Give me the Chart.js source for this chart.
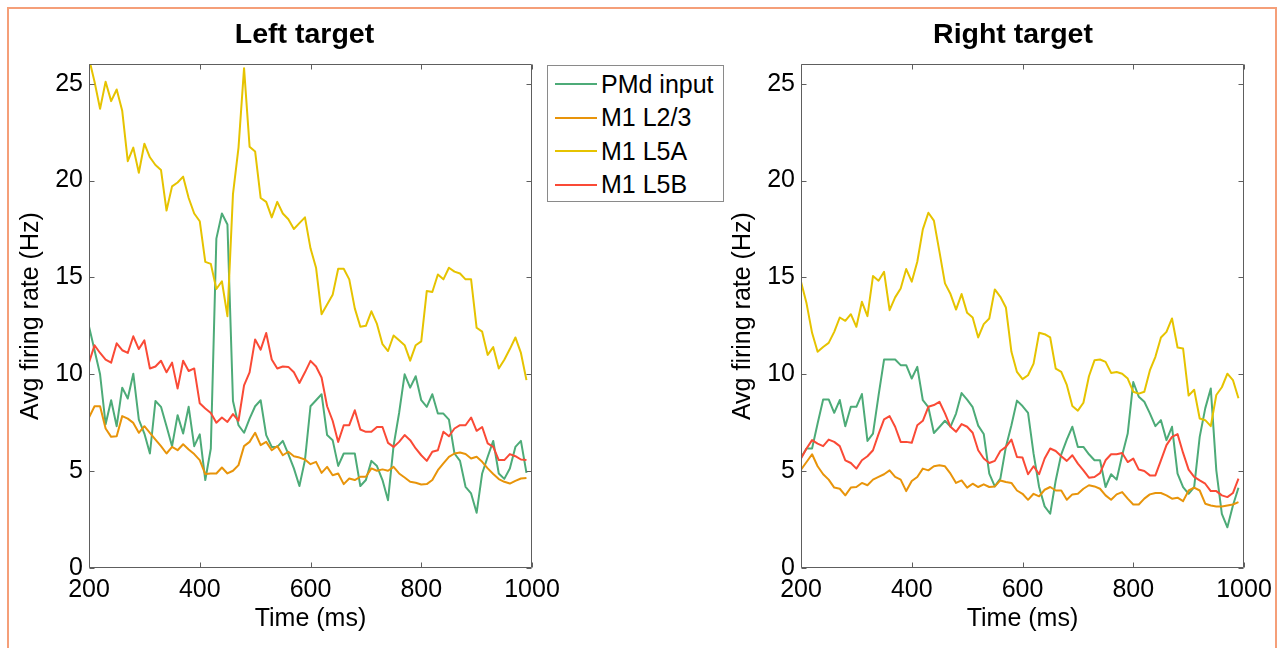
<!DOCTYPE html>
<html>
<head>
<meta charset="utf-8">
<script src="https://cdn.jsdelivr.net/npm/chart.js@4.4.1/dist/chart.umd.min.js"></script>
<style>
  html, body { margin: 0; padding: 0; background: #fff; overflow: hidden; width: 1283px; height: 648px; }
  #frame { position: absolute; left: 7px; top: 7px; width: 1270px; height: 700px; box-sizing: border-box;
           border: 2px solid #f59f79; pointer-events: none; z-index: 10; }
  canvas { position: absolute; top: 0; }
  #cLeft { left: 0; }
  #cRight { left: 720px; }
  #legend { position: absolute; left: 547px; top: 65px; width: 177px; height: 137px; box-sizing: border-box;
            border: 1px solid #8a8a8a; background: #fff; font-family: "Liberation Sans", Arial, sans-serif; z-index: 5; }
  .row { position: absolute; left: 7px; height: 34px; display: flex; align-items: center; font-size: 25px; color: #000; white-space: nowrap; }
  .sw { width: 42px; height: 2px; margin-right: 4px; }
</style>
</head>
<body>
<div id="frame"></div>
<canvas id="cLeft" width="609" height="648"></canvas>
<canvas id="cRight" width="586" height="648"></canvas>
<div id="legend"></div>
<script>
// ---------- data ----------
const timeMs = [200,210,220,230,240,250,260,270,280,290,300,310,320,330,340,350,360,370,380,390,
                400,410,420,430,440,450,460,470,480,490,500,510,520,530,540,550,560,570,580,590,
                600,610,620,630,640,650,660,670,680,690,700,710,720,730,740,750,760,770,780,790,
                800,810,820,830,840,850,860,870,880,890,900,910,920,930,940,950,960,970,980,990];
const xTicks = [200, 400, 600, 800, 1000];
const yTicks = [0, 5, 10, 15, 20, 25];
const seriesNames = ['PMd input', 'M1 L2/3', 'M1 L5A', 'M1 L5B'];
const seriesColors = ['#4dab78', '#e8940a', '#e6c300', '#fa4a36'];
const panelTitles = ['Left target', 'Right target'];

const leftPMd = [12.47,11.24,10.0,7.42,8.66,7.32,9.31,8.75,10.03,7.66, 6.94,5.91,8.62,8.32,7.32,6.29,7.89,6.94,8.32,6.29,
  6.9,4.54,6.17,17.0,18.3,17.73,8.62,7.37,6.98,7.71, 8.35,8.66,6.86,6.25,6.25,6.56,5.88,5.14,4.23,5.57,
  8.35,8.66,8.97,6.86,6.6,5.27,5.91,5.91,5.91,4.23, 4.54,5.53,5.26,4.54,3.5,6.3,8.0,10.0,9.31,9.9,
  8.66,8.32,8.97,7.97,7.97,7.66,5.91,5.53,4.19,3.85, 2.85,4.88,5.74,6.56,4.88,4.6,5.14,6.25,6.56,4.91];
const leftL23 = [7.77,8.35,8.35,7.2,6.77,6.8,7.84,7.71,7.49,6.98, 7.32,6.98,6.63,6.29,5.91,6.25,6.08,6.39,6.12,5.88,
  5.57,4.85,4.88,4.88,5.19,4.88,5.02,5.31,6.29,6.51, 6.98,6.34,6.51,6.08,6.29,5.82,6.0,5.77,5.7,5.6,
  5.36,5.48,4.91,5.22,4.79,4.88,4.33,4.62,4.54,4.71, 4.71,5.14,5.02,5.09,5.02,5.22,4.88,4.67,4.45,4.4,
  4.31,4.33,4.54,5.05,5.4,5.74,5.91,5.96,5.88,5.65, 5.74,5.48,5.14,4.85,4.59,4.45,4.36,4.5,4.62,4.65];
const leftL5A = [26.3,25.1,23.7,25.1,24.1,24.7,23.6,21.0,21.7,20.4, 21.9,21.2,20.8,20.55,18.45,19.7,19.9,20.2,19.1,18.3,
  17.9,15.8,15.7,14.4,14.8,13.0,19.3,21.7,25.8,21.75, 21.5,19.1,18.9,18.1,18.9,18.3,18.0,17.5,17.8,18.1,
  16.5,15.5,13.1,13.6,14.1,15.45,15.45,14.9,13.4,12.45, 12.5,13.25,12.6,11.55,11.2,12.0,11.75,11.5,10.7,11.5,
  11.7,14.3,14.25,15.15,14.9,15.5,15.3,15.2,14.9,14.9, 12.4,12.2,11.0,11.4,10.3,10.75,11.3,11.9,11.1,9.7];
const leftL5B = [10.6,11.5,11.1,10.76,10.6,11.6,11.24,11.1,11.96,11.3, 11.75,10.3,10.4,10.7,10.1,10.6,9.26,10.7,10.17,10.3,
  8.5,8.23,8.0,7.5,7.77,7.54,7.94,7.6,9.43,10.1, 11.8,11.27,12.13,10.76,10.3,10.4,10.38,10.1,9.55,10.1,
  10.69,10.4,9.83,8.35,7.6,6.51,7.37,7.37,8.14,7.15, 7.03,7.03,7.28,7.28,6.46,6.25,6.51,6.86,6.6,6.17,
  5.82,5.53,6.0,6.08,7.03,6.8,7.2,7.37,7.37,7.77, 7.08,7.28,6.43,6.25,5.57,5.57,5.88,5.77,5.6,5.57];

const rightPMd = [5.7,6.17,6.17,7.46,8.7,8.7,8.01,8.67,7.32,8.32, 8.32,8.98,6.56,6.94,8.9,10.76,10.76,10.76,10.47,10.47,
  9.78,10.38,8.66,8.3,6.97,7.28,7.6,7.3,7.97,9.03, 8.69,8.3,7.35,6.92,4.87,4.21,4.61,6.25,7.37,8.64,
  8.36,8.01,5.9,4.18,3.18,2.8,4.52,5.87,6.63,7.29, 6.25,6.25,5.87,5.56,5.56,4.18,4.84,4.56,5.82,6.94,
  9.6,8.84,8.58,7.98,7.32,7.63,6.6,7.29,4.87,4.18, 3.83,4.18,6.77,8.24,9.27,5.04,2.8,2.1,3.23,4.14];
const rightL23 = [5.08,5.47,5.87,5.25,4.84,4.56,4.15,4.09,3.75,4.15, 4.18,4.39,4.27,4.56,4.7,4.84,5.04,4.7,4.56,3.97,
  4.49,4.7,5.13,5.04,5.25,5.3,5.25,4.87,4.39,4.52, 4.15,4.35,4.18,4.32,4.18,4.21,4.52,4.44,4.39,4.0,
  3.83,3.52,3.83,3.7,4.04,4.18,4.0,4.0,3.52,3.8, 3.83,4.09,4.27,4.21,4.09,3.75,3.52,3.8,3.92,3.58,
  3.28,3.28,3.58,3.8,3.87,3.87,3.75,3.58,3.63,3.45, 4.0,4.15,4.0,3.32,3.23,3.18,3.18,3.23,3.28,3.4];
const rightL5A = [14.78,13.66,12.14,11.16,11.41,11.62,12.19,12.93,12.76,13.1, 12.45,13.74,13.0,15.07,14.83,15.29,13.31,13.97,14.43,15.43,
  14.78,15.81,17.48,18.34,17.93,16.33,14.69,14.14,13.34,14.14, 13.17,12.93,11.9,12.59,12.88,14.38,14.0,13.45,11.16,10.12,
  9.75,9.95,10.55,12.14,12.07,11.9,10.29,10.12,9.45,8.36, 8.12,8.53,9.9,10.72,10.76,10.64,10.07,10.12,10.03,9.78,
  9.1,9.0,9.1,10.2,10.9,11.9,12.19,12.88,11.38,11.33, 8.9,9.2,7.72,7.63,7.32,8.93,9.33,10.03,9.7,8.76];
const rightL5B = [5.65,6.17,6.6,6.42,6.29,6.63,6.51,6.29,5.56,5.42, 5.13,5.56,5.77,6.08,6.91,7.67,7.84,7.29,6.51,6.51,
  6.46,7.37,7.6,8.32,8.41,8.58,7.98,7.29,7.03,7.43, 7.29,6.98,6.08,5.65,5.42,5.53,6.04,6.25,6.63,5.73,
  5.7,4.84,5.25,4.84,5.65,6.17,6.04,5.77,5.53,5.82, 5.39,5.04,4.66,4.7,4.9,5.56,5.87,5.87,5.94,5.47,
  5.65,5.08,5.01,4.78,4.78,5.56,6.34,6.77,6.91,5.94, 5.08,4.7,4.52,4.35,3.97,3.97,3.75,3.66,3.87,4.61];

// ---------- chart ----------
Chart.defaults.font.family = '"Liberation Sans", Arial, Helvetica, sans-serif';
Chart.defaults.color = '#000';

const matlabBox = {
  id: 'matlabBox',
  afterDatasetsDraw(chart) {
    const {ctx, chartArea: a, scales: {x, y}} = chart;
    const L = Math.round(a.left) + 0.5, R = Math.round(a.right) - 0.5;
    const T = Math.round(a.top) + 0.5, B = Math.round(a.bottom) - 0.5;
    ctx.save();
    ctx.strokeStyle = '#5e5e5e';
    ctx.lineWidth = 1;
    ctx.beginPath();
    ctx.rect(L, T, R - L, B - T);
    const tl = 5;
    x.ticks.forEach(t => {
      const px = Math.round(x.getPixelForValue(t.value)) + 0.5;
      ctx.moveTo(px, B); ctx.lineTo(px, B - tl);
      ctx.moveTo(px, T); ctx.lineTo(px, T + tl);
    });
    y.ticks.forEach(t => {
      const py = Math.round(y.getPixelForValue(t.value)) + 0.5;
      ctx.moveTo(L, py); ctx.lineTo(L + tl, py);
      ctx.moveTo(R, py); ctx.lineTo(R - tl, py);
    });
    ctx.stroke();
    ctx.restore();
  }
};

// yw: left y-axis box width; rw: width of an empty right-hand spacer axis
function makeChart(canvasId, title, seriesList, yw, yTitlePad, rw) {
  const datasets = seriesList.map((vals, i) => ({
    label: seriesNames[i],
    data: timeMs.map((t, k) => ({x: t, y: vals[k]})),
    borderColor: seriesColors[i],
    backgroundColor: seriesColors[i],
    borderWidth: 2,
    pointRadius: 0,
    tension: 0,
    fill: false,
    borderJoinStyle: 'round',
    order: seriesList.length - i
  }));
  return new Chart(document.getElementById(canvasId), {
    type: 'line',
    data: {datasets},
    plugins: [matlabBox],
    options: {
      responsive: false,
      animation: false,
      devicePixelRatio: 1,
      layout: {padding: 0},
      plugins: {
        legend: {display: false},
        tooltip: {enabled: false},
        title: {
          display: true, text: title, color: '#000',
          font: {size: 28.5, weight: 'bold'},
          padding: {top: 18.5, bottom: 11.6}
        }
      },
      scales: {
        x: {
          type: 'linear', min: 200, max: 1000,
          afterBuildTicks: s => { s.ticks = xTicks.map(v => ({value: v})); },
          afterFit: s => { s.height = 80; },
          grid: {display: false, drawTicks: false},
          border: {display: false},
          ticks: {padding: 7, font: {size: 25}, color: '#000', maxRotation: 0, autoSkip: false,
                  callback: v => String(v)},
          title: {display: true, text: 'Time (ms)', font: {size: 25}, color: '#000', padding: {top: 0, bottom: 14}}
        },
        y: {
          type: 'linear', min: 0, max: 26,
          afterBuildTicks: s => { s.ticks = yTicks.map(v => ({value: v})); },
          afterFit: s => { s.width = yw; },
          grid: {display: false, drawTicks: false},
          border: {display: false},
          ticks: {padding: 6, font: {size: 25}, color: '#000', callback: v => String(v)},
          title: {display: true, text: 'Avg firing rate (Hz)', font: {size: 25}, color: '#000', padding: {top: yTitlePad, bottom: 0}}
        },
        spacer: {
          type: 'linear', position: 'right', min: 0, max: 26,
          afterFit: s => { s.width = rw; },
          grid: {display: false, drawTicks: false},
          border: {display: false},
          ticks: {display: false}
        }
      }
    }
  });
}

// left canvas at page x=0 (width 609): plot 89..532, title centred ~304.5
const leftChart = makeChart('cLeft', panelTitles[0], [leftPMd, leftL23, leftL5A, leftL5B], 89, 16, 77);
// right canvas at page x=720 (width 586): plot 801..1244, title centred ~1013
const rightChart = makeChart('cRight', panelTitles[1], [rightPMd, rightL23, rightL5A, rightL5B], 81, 8, 62);

// legend built from the left chart's datasets
const legendEl = document.getElementById('legend');
leftChart.data.datasets.forEach((ds, i) => {
  const row = document.createElement('div');
  row.className = 'row';
  row.style.top = (1.3 + i * 33.4) + 'px';
  const sw = document.createElement('span');
  sw.className = 'sw';
  sw.style.background = ds.borderColor;
  const tx = document.createElement('span');
  tx.textContent = ds.label;
  row.appendChild(sw); row.appendChild(tx);
  legendEl.appendChild(row);
});
</script>
</body>
</html>
